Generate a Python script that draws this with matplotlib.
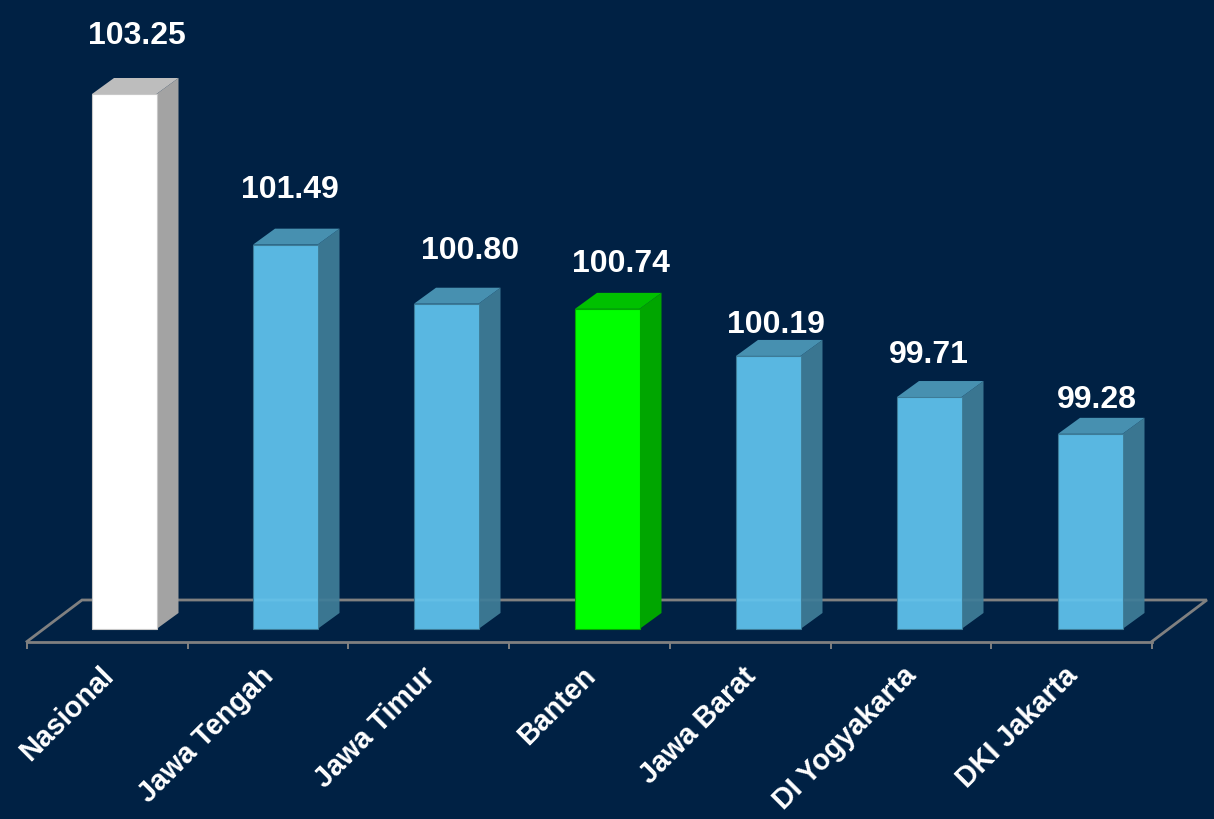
import matplotlib
matplotlib.use('Agg')
import matplotlib.pyplot as plt
from matplotlib.patches import Polygon

categories = ['Nasional', 'Jawa Tengah', 'Jawa Timur', 'Banten', 'Jawa Barat', 'DI Yogyakarta', 'DKI Jakarta']
values = [103.25, 101.49, 100.80, 100.74, 100.19, 99.71, 99.28]
base_value = 97.0

# colours per bar: front, side, top
white = ('#ffffff', '#a3a3a3', '#bdbdbd')
blue = ('#61c4ee', '#3f7d98', '#4790b0')
green = ('#00ff00', '#00a600', '#00c000')
bar_colors = [white, blue, blue, green, blue, blue, blue]

# label nudges in pixels, the labels were placed by hand in the original
label_dx = [12.5, 4.7, 23.4, 14.1, 7.8, -0.5, 6.2]
label_dy = [58, 55, 53, 45, 31, 42, 34]

BG = '#002144'
LINE = '#808080'
W, H = 1214, 819
PX_X = 160.7   # pixels per category
PX_Y = 85.6    # pixels per value unit
X0, Y0 = 27, 629
DEPTH_X, DEPTH_Y = 22 / PX_X, 16 / PX_Y
FLOOR_DX, FLOOR_DY = 55 / PX_X, 41.5 / PX_Y
BAR_W = 64.5 / PX_X
BAR_L = 65 / PX_X  # left gap inside a category
BAR_STEP = 161 / PX_X  # bars are spaced a bit wider than the ticks

plt.rcParams['font.family'] = ['Liberation Sans', 'DejaVu Sans']

fig = plt.figure(figsize=(W / 100, H / 100), dpi=100, facecolor=BG)
ax = fig.add_axes([0, 0, 1, 1])
ax.set_facecolor(BG)
ax.set_xlim(-X0 / PX_X, (W - X0) / PX_X)
ax.set_ylim(base_value - (H - Y0) / PX_Y, base_value + Y0 / PX_Y)

# floor
front_y = base_value - 12.5 / PX_Y
n = len(categories)
ax.plot([0, FLOOR_DX, n + FLOOR_DX, n], [front_y, front_y + FLOOR_DY, front_y + FLOOR_DY, front_y],
        color=LINE, lw=2, zorder=1, solid_joinstyle='miter')

for s in ['top', 'left', 'right']:
    ax.spines[s].set_visible(False)
ax.spines['bottom'].set_position(('data', front_y))
ax.spines['bottom'].set_bounds(0, n)
ax.spines['bottom'].set_color(LINE)
ax.spines['bottom'].set_linewidth(2)
ax.set_xticks(range(n + 1))
ax.set_xticklabels([])
ax.set_yticks([])
ax.tick_params(axis='x', length=5, width=1.4, color=LINE)

for i, (val, cols) in enumerate(zip(values, bar_colors)):
    left = i * BAR_STEP + BAR_L
    right = left + BAR_W
    alpha = 0.93 if cols is blue else 1
    ax.bar(left, val - base_value, BAR_W, bottom=base_value, align='edge', color=cols[0], alpha=alpha,
           edgecolor='#c8c8c8' if cols is white else cols[1], lw=0.8, zorder=3)
    side = Polygon([(right, base_value), (right + DEPTH_X, base_value + DEPTH_Y),
                    (right + DEPTH_X, val + DEPTH_Y), (right, val)],
                   facecolor=cols[1], alpha=alpha, edgecolor='none', zorder=2)
    top = Polygon([(left, val), (left + DEPTH_X, val + DEPTH_Y),
                   (right + DEPTH_X, val + DEPTH_Y), (right, val)],
                  facecolor=cols[2], edgecolor='none', zorder=2)
    ax.add_patch(side)
    ax.add_patch(top)

    ax.annotate(f'{val:.2f}', (left + BAR_W / 2, val), xytext=(label_dx[i] * 0.72, label_dy[i] * 0.72),
                textcoords='offset points', ha='center', va='center', color='white',
                fontsize=23, fontweight='bold')

    ax.annotate(categories[i], (i + 0.5, front_y), xytext=(-6, -14.5), textcoords='offset points',
                ha='right', va='top', rotation=45, rotation_mode='anchor', color='white',
                fontsize=20.7, fontweight='bold')

fig.savefig('out.png', dpi=100, facecolor=BG)
plt.close(fig)
